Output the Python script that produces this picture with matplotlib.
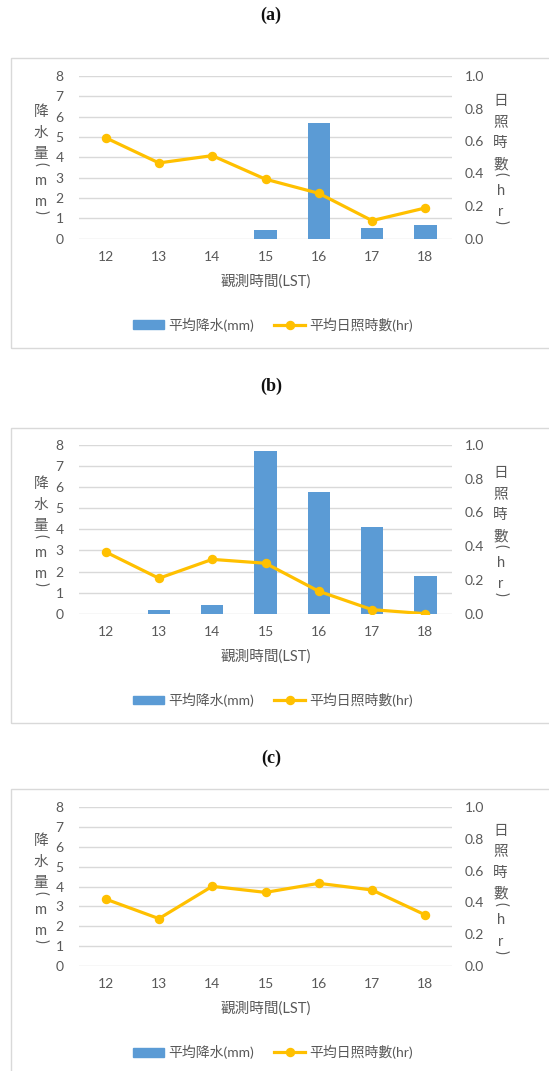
'''rain / sunshine hourly charts (a)(b)(c)'''

import matplotlib
matplotlib.use('Agg')
import matplotlib.pyplot as plt
from matplotlib.patches import Rectangle
from matplotlib.lines import Line2D

plt.rcParams['font.family'] = ['Lato', 'Noto Sans CJK TC', 'DejaVu Sans']

hours = ['12', '13', '14', '15', '16', '17', '18']
rain_a = [0, 0, 0, 0.42, 5.7, 0.53, 0.65]
sun_a = [0.62, 0.465, 0.51, 0.365, 0.278, 0.11, 0.188]
rain_b = [0, 0.17, 0.4, 7.73, 5.77, 4.12, 1.79]
sun_b = [0.366, 0.21, 0.322, 0.299, 0.133, 0.024, 0.0]
rain_c = [0, 0, 0, 0, 0, 0, 0]
sun_c = [0.421, 0.298, 0.501, 0.463, 0.52, 0.478, 0.321]
panel_names = ['(a)', '(b)', '(c)']
left_ticks = [0, 1, 2, 3, 4, 5, 6, 7, 8]
right_ticks = [0.0, 0.2, 0.4, 0.6, 0.8, 1.0]
xlabel = '觀測時間(LST)'
left_label = '降水量(mm)'
right_label = '日照時數(hr)'
rain_name = '平均降水(mm)'
sun_name = '平均日照時數(hr)'

W, H = 549, 1071
BLUE = '#5B9BD5'
GOLD = '#FFC000'
GRID = '#D9D9D9'
TXT = '#595959'
FS = 10

fig = plt.figure(figsize=(W / 100, H / 100), dpi=100)

# pixel layout of each panel: (title y, box top, box bottom, axes top, axes bottom)
layout = [(15, 58, 348, 76, 238.5),
          (386, 427.7, 722.7, 445, 613.7),
          (758, 789.3, 1085, 807, 966)]
AX_L, AX_R = 79, 452


def fx(px):
    return px / W


def fy(py):
    return 1 - py / H


def stack_text(x, yc, s):
    # excel style stacked vertical text, brackets turned sideways
    parens = '()'
    ys = [0]
    for i in range(1, len(s)):
        if s[i] in parens:
            step = 10
        elif s[i - 1] in parens:
            step = 17
        else:
            step = 21
        ys.append(ys[-1] + step)
    off = yc - (ys[0] + ys[-1]) / 2
    for ch, y in zip(s, ys):
        rot = -90 if ch in parens else 0
        fig.text(fx(x), fy(y + off), ch, ha='center', va='center',
                 rotation=rot, rotation_mode='anchor',
                 fontsize=FS + 0.5, color=TXT)


datasets = [(rain_a, sun_a), (rain_b, sun_b), (rain_c, sun_c)]
for (ty, bt, bb, at, ab), (rain, sun), name in zip(layout, datasets, panel_names):
    fig.text(fx(271), fy(ty), name, ha='center', va='center',
             fontsize=13, family='Liberation Serif', weight='bold', color='#111111')
    fig.patches.append(Rectangle((fx(11), fy(bb)), fx(600 - 11), (bb - bt) / H,
                                 transform=fig.transFigure, fill=False,
                                 edgecolor=GRID, linewidth=1.0))

    ax = fig.add_axes([fx(AX_L), fy(ab), fx(AX_R - AX_L), (ab - at) / H])
    x = list(range(len(hours)))
    ax.bar(x, rain, width=0.42, color=BLUE, zorder=2)
    ax.set_xlim(-0.5, 6.5)
    ax.set_ylim(0, 8)
    ax.set_yticks(left_ticks)
    ax.set_xticks(x)
    ax.set_xticklabels(hours)
    ax.grid(axis='y', color=GRID, linewidth=1.0, zorder=0)
    for sp in ax.spines.values():
        sp.set_visible(False)
    ax.tick_params(axis='both', length=0, labelsize=FS, colors=TXT)
    ax.tick_params(axis='y', pad=11)
    ax.tick_params(axis='x', pad=9)
    ax.set_facecolor('none')

    ax2 = ax.twinx()
    ax2.plot(x, sun, color=GOLD, linewidth=2.3, marker='o', markersize=5.8, zorder=3)
    ax2.set_ylim(0, 1.0)
    ax2.set_yticks(right_ticks)
    ax2.set_yticklabels(['%.1f' % v for v in right_ticks])
    for sp in ax2.spines.values():
        sp.set_visible(False)
    ax2.tick_params(axis='y', length=0, labelsize=FS, colors=TXT, pad=9)

    fig.text(fx(265.5), fy(ab + 43), xlabel, ha='center', va='center',
             fontsize=FS + 0.5, color=TXT)
    yc = (at + ab) / 2 + 4.5
    stack_text(40.7, yc, left_label)
    stack_text(500.7, yc, right_label)

    handles = [Rectangle((0, 0), 1, 1, color=BLUE),
               Line2D([0], [0], color=GOLD, linewidth=2.3, marker='o', markersize=5.8)]
    leg = fig.legend(handles, [rain_name, sun_name], loc='center',
                     bbox_to_anchor=(fx(273), fy(ab + 86)), ncol=2, frameon=False,
                     fontsize=FS, handlelength=2.2, handletextpad=0.3,
                     columnspacing=1.5, handleheight=0.6)
    for t in leg.get_texts():
        t.set_color(TXT)

fig.savefig('out.png', dpi=100)
